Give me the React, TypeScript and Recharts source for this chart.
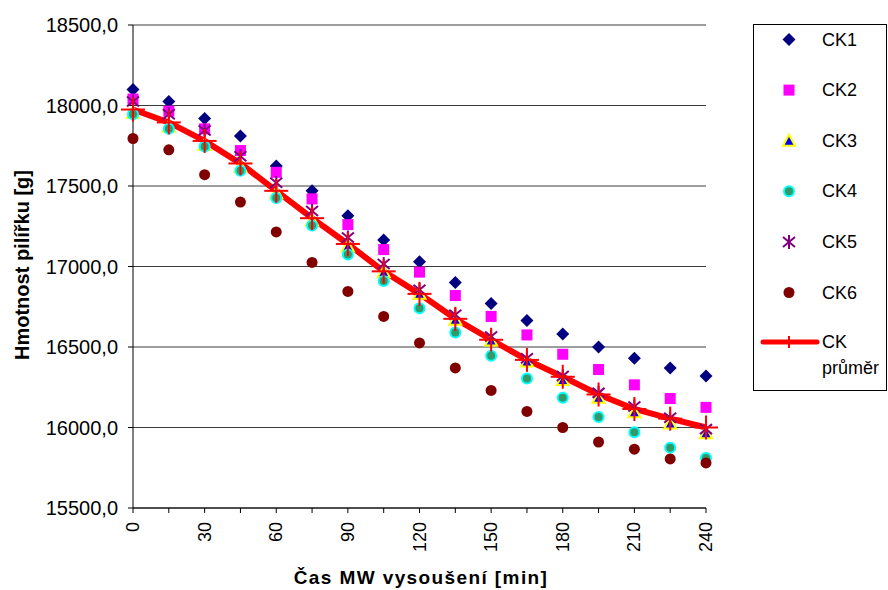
import React from 'react';
import {
    ComposedChart,
    Scatter,
    Line,
    XAxis,
    YAxis,
    CartesianGrid
} from 'recharts';

// drying time [min]
const times = [0, 15, 30, 45, 60, 75, 90, 105, 120, 135, 150, 165, 180, 195, 210, 225, 240];
const xLabelTicks = [0, 30, 60, 90, 120, 150, 180, 210, 240];
const yTicks = [15500, 16000, 16500, 17000, 17500, 18000, 18500];

// pillar mass [g]
const ck1 = [18100, 18025, 17920, 17810, 17625, 17470, 17315, 17165, 17030, 16900, 16770, 16665, 16580, 16500, 16430, 16370, 16320];
const ck2 = [18040, 17965, 17855, 17720, 17585, 17420, 17260, 17105, 16965, 16820, 16690, 16575, 16455, 16360, 16265, 16180, 16125];
const ck3 = [17955, 17870, 17755, 17620, 17455, 17285, 17125, 16965, 16830, 16670, 16540, 16410, 16295, 16185, 16095, 16025, 15965];
const ck4 = [17945, 17855, 17745, 17595, 17425, 17255, 17075, 16910, 16740, 16590, 16445, 16305, 16185, 16065, 15970, 15875, 15810];
const ck5 = [18025, 17945, 17845, 17685, 17520, 17345, 17180, 17015, 16855, 16700, 16565, 16430, 16320, 16215, 16130, 16060, 15990];
const ck6 = [17795, 17725, 17570, 17400, 17215, 17025, 16845, 16690, 16525, 16370, 16230, 16100, 16000, 15910, 15865, 15805, 15780];
const ckAvg = [17975, 17895, 17780, 17640, 17470, 17300, 17140, 16970, 16830, 16675, 16545, 16420, 16315, 16205, 16115, 16055, 16000];

const FONT = '"Liberation Sans", Arial, sans-serif';

const data = times.map((t, i) => ({
    t,
    ck1: ck1[i],
    ck2: ck2[i],
    ck3: ck3[i],
    ck4: ck4[i],
    ck5: ck5[i],
    ck6: ck6[i],
    avg: ckAvg[i]
}));

// marker shapes (shared by the plot and the legend)
const Diamond = ({ cx, cy }: any) => (
    <polygon points={`${cx},${cy - 6.5} ${cx + 6.5},${cy} ${cx},${cy + 6.5} ${cx - 6.5},${cy}`} fill="#000080" />
);
const Square = ({ cx, cy }: any) => (
    <rect x={cx - 5.5} y={cy - 5.5} width={11} height={11} fill="#ff00ff" />
);
const Triangle = ({ cx, cy }: any) => (
    <polygon
        points={`${cx},${cy - 6} ${cx + 6},${cy + 5} ${cx - 6},${cy + 5}`}
        fill="#0000ff"
        stroke="#ffff00"
        strokeWidth={2}
        strokeLinejoin="miter"
    />
);
const CyanDot = ({ cx, cy }: any) => (
    <circle cx={cx} cy={cy} r={5} fill="#339966" stroke="#00ffff" strokeWidth={2} />
);
const Asterisk = ({ cx, cy }: any) => (
    <g stroke="#800080" strokeWidth={2}>
        <line x1={cx} y1={cy - 7} x2={cx} y2={cy + 7} />
        <line x1={cx - 6} y1={cy - 5} x2={cx + 6} y2={cy + 5} />
        <line x1={cx - 6} y1={cy + 5} x2={cx + 6} y2={cy - 5} />
    </g>
);
const RedDot = ({ cx, cy }: any) => (
    <circle cx={cx} cy={cy} r={5.5} fill="#800000" />
);
const Plus = ({ cx, cy, size = 12 }: any) => (
    <g stroke="#ff0000" strokeWidth={2}>
        <line x1={cx - size} y1={cy} x2={cx + size} y2={cy} />
        <line x1={cx} y1={cy - size} x2={cx} y2={cy + size} />
    </g>
);

const XTick = ({ x, y, payload }: any) => {
    if (!xLabelTicks.includes(payload.value)) return <g />;
    return (
        <text
            transform={`translate(${x},${y + 7}) rotate(-90)`}
            textAnchor="end"
            dominantBaseline="central"
            fontSize={18}
            fontFamily={FONT}
            fill="#000"
        >
            {payload.value}
        </text>
    );
};

const legendItems = [
    { name: 'CK1', Mark: Diamond },
    { name: 'CK2', Mark: Square },
    { name: 'CK3', Mark: Triangle },
    { name: 'CK4', Mark: CyanDot },
    { name: 'CK5', Mark: Asterisk },
    { name: 'CK6', Mark: RedDot }
];

const ChartLegend = () => (
    <svg width={134} height={367} style={{ position: 'absolute', left: 753, top: 24 }}>
        <rect x={0.5} y={0.5} width={133} height={366} fill="#fff" stroke="#000" />
        {legendItems.map((item, i) => {
            const cy = 15.5 + i * 50.6;
            return (
                <g key={item.name}>
                    <item.Mark cx={36} cy={cy} />
                    <text x={69} y={cy} dominantBaseline="central" fontSize={18} fontFamily={FONT} fill="#000">
                        {item.name}
                    </text>
                </g>
            );
        })}
        <line x1={10} y1={318} x2={64} y2={318} stroke="#ff0000" strokeWidth={5} strokeLinecap="round" />
        <Plus cx={36} cy={318} size={6} />
        <text x={69} y={318} dominantBaseline="central" fontSize={18} fontFamily={FONT} fill="#000">CK</text>
        <text x={69} y={344} dominantBaseline="central" fontSize={18} fontFamily={FONT} fill="#000">průměr</text>
    </svg>
);

const scatterSeries = [
    { key: 'ck1', shape: Diamond },
    { key: 'ck2', shape: Square },
    { key: 'ck3', shape: Triangle },
    { key: 'ck4', shape: CyanDot },
    { key: 'ck5', shape: Asterisk },
    { key: 'ck6', shape: RedDot }
];

export default function App() {
    return (
        <div style={{ position: 'absolute', left: 0, top: 0, width: 888, height: 590, background: '#fff' }}>
            <ComposedChart
                width={888}
                height={590}
                data={data}
                margin={{ top: 25, right: 182, bottom: 0, left: 0 }}
            >
                <CartesianGrid vertical={false} stroke="#3c3c3c" />
                <XAxis
                    dataKey="t"
                    type="number"
                    domain={[0, 240]}
                    ticks={times}
                    interval={0}
                    height={82}
                    tickSize={5}
                    stroke="#000"
                    tick={(p: any) => <XTick {...p} />}
                    label={{
                        content: () => (
                            <text
                                x={421}
                                y={577}
                                textAnchor="middle"
                                dominantBaseline="central"
                                fontSize={19}
                                fontWeight="bold"
                                fontFamily={FONT}
                                letterSpacing={1.4}
                                fill="#000"
                            >
                                Čas MW vysoušení [min]
                            </text>
                        )
                    }}
                />
                <YAxis
                    type="number"
                    domain={[15500, 18500]}
                    ticks={yTicks}
                    interval={0}
                    width={133}
                    tickSize={5}
                    tickMargin={10}
                    stroke="#000"
                    tick={{ fill: '#000', fontSize: 20, fontFamily: FONT }}
                    tickFormatter={(v: number) => v.toFixed(1).replace('.', ',')}
                    label={{
                        content: () => (
                            <text
                                transform="translate(22,265) rotate(-90)"
                                textAnchor="middle"
                                dominantBaseline="central"
                                fontSize={20}
                                fontWeight="bold"
                                fontFamily={FONT}
                                fill="#000"
                            >
                                Hmotnost pilířku [g]
                            </text>
                        )
                    }}
                />
                {scatterSeries.map(s => (
                    <Scatter
                        key={s.key}
                        dataKey={s.key}
                        shape={(p: any) => <s.shape cx={p.cx} cy={p.cy} />}
                        isAnimationActive={false}
                    />
                ))}
                <Line
                    dataKey="avg"
                    type="linear"
                    stroke="#ff0000"
                    strokeWidth={6}
                    dot={(p: any) => <Plus key={p.index} cx={p.cx} cy={p.cy} />}
                    activeDot={false}
                    isAnimationActive={false}
                />
            </ComposedChart>
            <ChartLegend />
        </div>
    );
}
